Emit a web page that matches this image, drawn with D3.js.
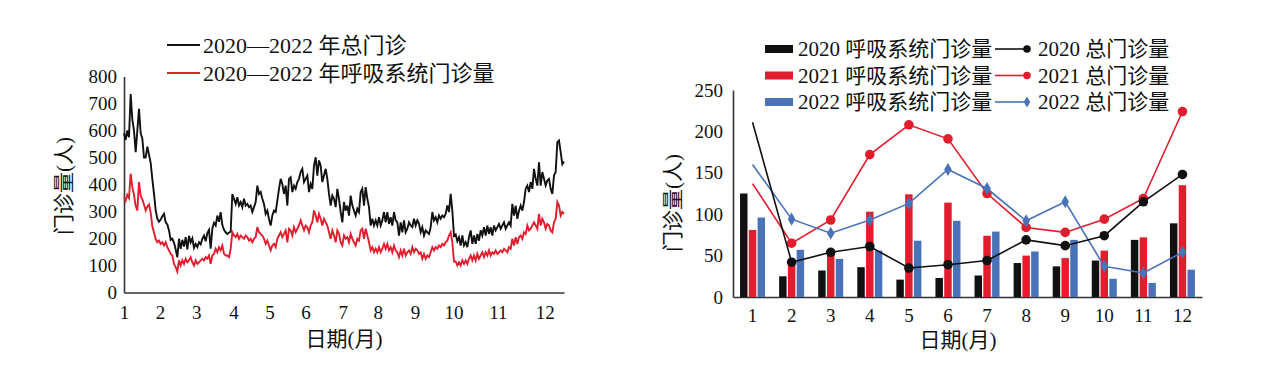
<!DOCTYPE html>
<meta charset="utf-8">
<body style="margin:0;background:#fff">
<script src="https://d3js.org/d3.v7.min.js"></script>
<script>
// ---- left chart: daily visits 2020-2022 (averaged) ----
var totalVisits = [
  590,565,600,575,735,640,600,520,600,680,
  590,570,500,500,540,510,480,420,365,305,
  273,262,270,282,291,260,252,230,195,199,
  185,160,130,199,162,195,170,205,160,210,
  185,200,165,180,168,186,178,199,211,190,
  220,232,162,236,258,248,285,262,298,250,
  232,223,217,222,225,365,347,328,353,322,
  335,316,347,322,328,316,322,298,316,335,
  396,365,372,347,328,291,303,
  272,248,285,303,298,340,384,421,402,365,
  396,322,421,427,372,396,384,409,421,446,
  458,409,421,433,372,402,384,470,501,433,
  489,470,409,433,458,421,365,322,359,347,
  316,384,347,298,260,335,303,322,285,359,
  322,303,285,310,298,372,384,322,390,347,
  316,248,273,248,267,248,279,248,267,298,
  260,298,254,279,248,298,267,260,211,260,
  223,267,223,236,260,248,
  242,273,248,267,254,223,242,211,230,223,
  217,242,298,267,279,260,285,273,285,279,
  291,322,298,365,303,210,215,190,205,174,
  211,174,186,168,205,230,180,211,180,217,
  192,230,211,242,211,248,217,242,211,248,
  230,242,254,236,248,260,236,248,260,248,
  328,285,322,273,303,322,303,335,384,396,
  372,409,384,458,421,396,482,396,446,421,
  396,415,421,384,365,433,446,557,563,520,
  475,485
];
var respVisits = [
  353,340,362,350,440,390,362,320,304,409,
  358,345,326,304,318,326,296,245,222,198,
  186,192,180,186,174,186,168,156,143,137,
  106,94,78,119,100,119,106,125,112,119,
  131,112,100,119,106,112,119,125,119,131,
  125,137,106,137,143,162,149,168,156,174,
  143,137,137,131,162,223,211,205,217,199,
  211,205,199,211,205,192,199,186,199,205,
  242,223,217,211,199,180,192,
  174,156,174,180,168,199,211,223,205,217,
  230,186,236,230,211,242,223,236,248,267,
  248,230,248,242,223,248,260,304,285,260,
  291,273,248,273,260,248,223,199,230,211,
  186,230,217,186,174,211,199,205,186,217,
  199,186,174,199,192,230,236,199,236,211,
  186,156,168,149,162,149,168,149,162,180,
  162,180,156,168,149,174,156,149,131,156,
  137,162,137,149,156,143,
  168,149,162,156,143,149,125,143,125,137,
  131,149,168,156,168,162,174,168,180,174,
  186,192,211,223,186,115,115,100,112,100,
  119,106,119,106,125,137,119,137,119,143,
  125,137,149,131,149,137,156,137,149,143,
  156,143,149,156,149,162,156,149,168,162,
  199,174,205,180,205,211,199,223,217,248,
  230,236,248,260,248,236,291,248,273,260,
  236,254,248,230,223,260,273,335,322,285,
  298,291
];
var yearDays = 366;
var monthTickDays = [0, 30, 60, 91, 121, 151, 182, 211, 242, 274, 311, 350];
var monthLabels = [1, 2, 3, 4, 5, 6, 7, 8, 9, 10, 11, 12];
var leftTicks = [0, 100, 200, 300, 400, 500, 600, 700, 800];

// ---- right chart: monthly values per year ----
var months = [1, 2, 3, 4, 5, 6, 7, 8, 9, 10, 11, 12];
var resp2020 = [125, 25, 32, 36, 21, 23, 26, 41, 37, 44, 69, 89];
var resp2021 = [81, 43, 52, 103, 124, 114, 74, 50, 47, 56, 72, 135];
var resp2022 = [96, 57, 46, 56, 68, 92, 79, 55, 69, 22, 17, 33];
var total2020 = [211, 42, 54, 61, 35, 39, 44, 69, 62, 74, 115, 148];
var total2021 = [137, 65, 93, 172, 208, 191, 125, 84, 78, 94, 119, 224];
var total2022 = [160, 94, 77, 93, 113, 154, 131, 92, 115, 37, 29, 54];
var rightTicks = [0, 50, 100, 150, 200, 250];

var BLACK = "#111", RED = "#e11d2e", BLUE = "#4a72b8";
var FONT = "'Liberation Serif','Noto Sans CJK SC',serif";

var svg = d3.select("body").append("svg")
	.attr("width", 1269)
	.attr("height", 369)
	.attr("font-family", FONT);

function styleAxis(g, size){
	g.attr("font-family", FONT).attr("font-size", size);
	g.select(".domain").attr("stroke", "#333").attr("stroke-width", 1.6);
	g.selectAll("text").attr("fill", "#111");
}

//--- left chart
var xL = d3.scaleLinear().domain([0, yearDays]).range([124, 564]);
var yL = d3.scaleLinear().domain([0, 800]).range([292.5, 76.5]);

svg.append("g")
	.attr("transform", "translate(124,0)")
	.call(d3.axisLeft(yL).tickValues(leftTicks).tickSize(0).tickPadding(7))
	.call(styleAxis, 19);
svg.append("g")
	.attr("transform", "translate(0,292.5)")
	.call(d3.axisBottom(xL).tickValues(monthTickDays)
		.tickFormat(function(d, i){ return monthLabels[i]; })
		.tickSize(0).tickPadding(13))
	.call(styleAxis, 19);

function dayLine(arr){
	return d3.line()
		.x(function(d, i){ return xL(i * yearDays / (arr.length - 1)); })
		.y(function(d){ return yL(d); })(arr);
}
svg.append("path").attr("d", dayLine(respVisits))
	.attr("fill", "none").attr("stroke", RED).attr("stroke-width", 1.9);
svg.append("path").attr("d", dayLine(totalVisits))
	.attr("fill", "none").attr("stroke", BLACK).attr("stroke-width", 1.9);

// legend
var legL = [["2020—2022 年总门诊", BLACK], ["2020—2022 年呼吸系统门诊量", RED]];
legL.forEach(function(l, i){
	var yy = 45 + i * 28;
	svg.append("line").attr("x1", 167).attr("x2", 200).attr("y1", yy).attr("y2", yy)
		.attr("stroke", l[1]).attr("stroke-width", 2);
	svg.append("text").attr("x", 203).attr("y", yy).attr("dy", "0.35em")
		.attr("font-size", 22).attr("fill", "#111").text(l[0]);
});
svg.append("text").attr("transform", "translate(64,186) rotate(-90)")
	.attr("text-anchor", "middle").attr("dy", "0.35em")
	.attr("font-size", 21).attr("fill", "#111").text("门诊量(人)");
svg.append("text").attr("x", 344).attr("y", 339).attr("dy", "0.35em")
	.attr("text-anchor", "middle").attr("font-size", 21).attr("fill", "#111").text("日期(月)");

//--- right chart
var xR = d3.scaleBand().domain(months).range([733, 1202]);
var yR = d3.scaleLinear().domain([0, 250]).range([297, 90]);
var inner = d3.scaleBand().domain([0, 1, 2]).range([-12.5, 12.5]).paddingInner(0.15);

svg.append("g")
	.attr("transform", "translate(733,0)")
	.call(d3.axisLeft(yR).tickValues(rightTicks).tickSize(0).tickPadding(10))
	.call(styleAxis, 19);
svg.append("g")
	.attr("transform", "translate(0,297)")
	.call(d3.axisBottom(xR).tickSize(0).tickPadding(12).tickSizeOuter(0))
	.call(styleAxis, 19);

var bars = [[resp2020, BLACK], [resp2021, RED], [resp2022, BLUE]];
bars.forEach(function(b, k){
	svg.append("g").selectAll("rect")
		.data(b[0]).enter().append("rect")
		.attr("x", function(d, i){ return xR(months[i]) + xR.bandwidth() / 2 + inner(k); })
		.attr("width", inner.bandwidth())
		.attr("y", function(d){ return yR(d); })
		.attr("height", function(d){ return yR(0) - yR(d); })
		.attr("fill", b[1]);
});

var cx = function(d, i){ return xR(months[i]) + xR.bandwidth() / 2; };
var lines = [
	[total2021, RED, "circle"],
	[total2022, BLUE, "diamond"],
	[total2020, BLACK, "circle"]
];
function marker(g, type, color, x, y, big){
	if(type == "circle"){
		g.append("circle").attr("cx", x).attr("cy", y).attr("r", big ? 4.8 : 3.8).attr("fill", color);
	} else {
		g.append("path").attr("d", d3.symbol(d3.symbolDiamond, big ? 50 : 36)())
			.attr("transform", "translate(" + x + "," + y + ")").attr("fill", color);
	}
}
lines.forEach(function(l){
	var g = svg.append("g");
	g.append("path")
		.attr("d", d3.line().x(cx).y(function(d){ return yR(d); })(l[0]))
		.attr("fill", "none").attr("stroke", l[1]).attr("stroke-width", 1.6);
	l[0].forEach(function(d, i){
		if(i > 0) marker(g, l[2], l[1], cx(d, i), yR(d), true);
	});
});

// legend right
var legBars = [["2020 呼吸系统门诊量", BLACK], ["2021 呼吸系统门诊量", RED], ["2022 呼吸系统门诊量", BLUE]];
var legLines = [["2020 总门诊量", BLACK, "circle"], ["2021 总门诊量", RED, "circle"], ["2022 总门诊量", BLUE, "diamond"]];
legBars.forEach(function(l, i){
	var yy = 49 + i * 26.5;
	svg.append("rect").attr("x", 765).attr("y", yy - 4).attr("width", 28).attr("height", 8).attr("fill", l[1]);
	svg.append("text").attr("x", 798).attr("y", yy).attr("dy", "0.35em")
		.attr("font-size", 21).attr("fill", "#111").text(l[0]);
	var ll = legLines[i];
	svg.append("line").attr("x1", 995).attr("x2", 1027).attr("y1", yy).attr("y2", yy)
		.attr("stroke", ll[1]).attr("stroke-width", 1.6);
	marker(svg, ll[2], ll[1], 1027, yy, false);
	svg.append("text").attr("x", 1038).attr("y", yy).attr("dy", "0.35em")
		.attr("font-size", 21).attr("fill", "#111").text(ll[0]);
});
svg.append("text").attr("transform", "translate(673,203) rotate(-90)")
	.attr("text-anchor", "middle").attr("dy", "0.35em")
	.attr("font-size", 21).attr("fill", "#111").text("门诊量(人)");
svg.append("text").attr("x", 958).attr("y", 340).attr("dy", "0.35em")
	.attr("text-anchor", "middle").attr("font-size", 21).attr("fill", "#111").text("日期(月)");
</script>
</body>
